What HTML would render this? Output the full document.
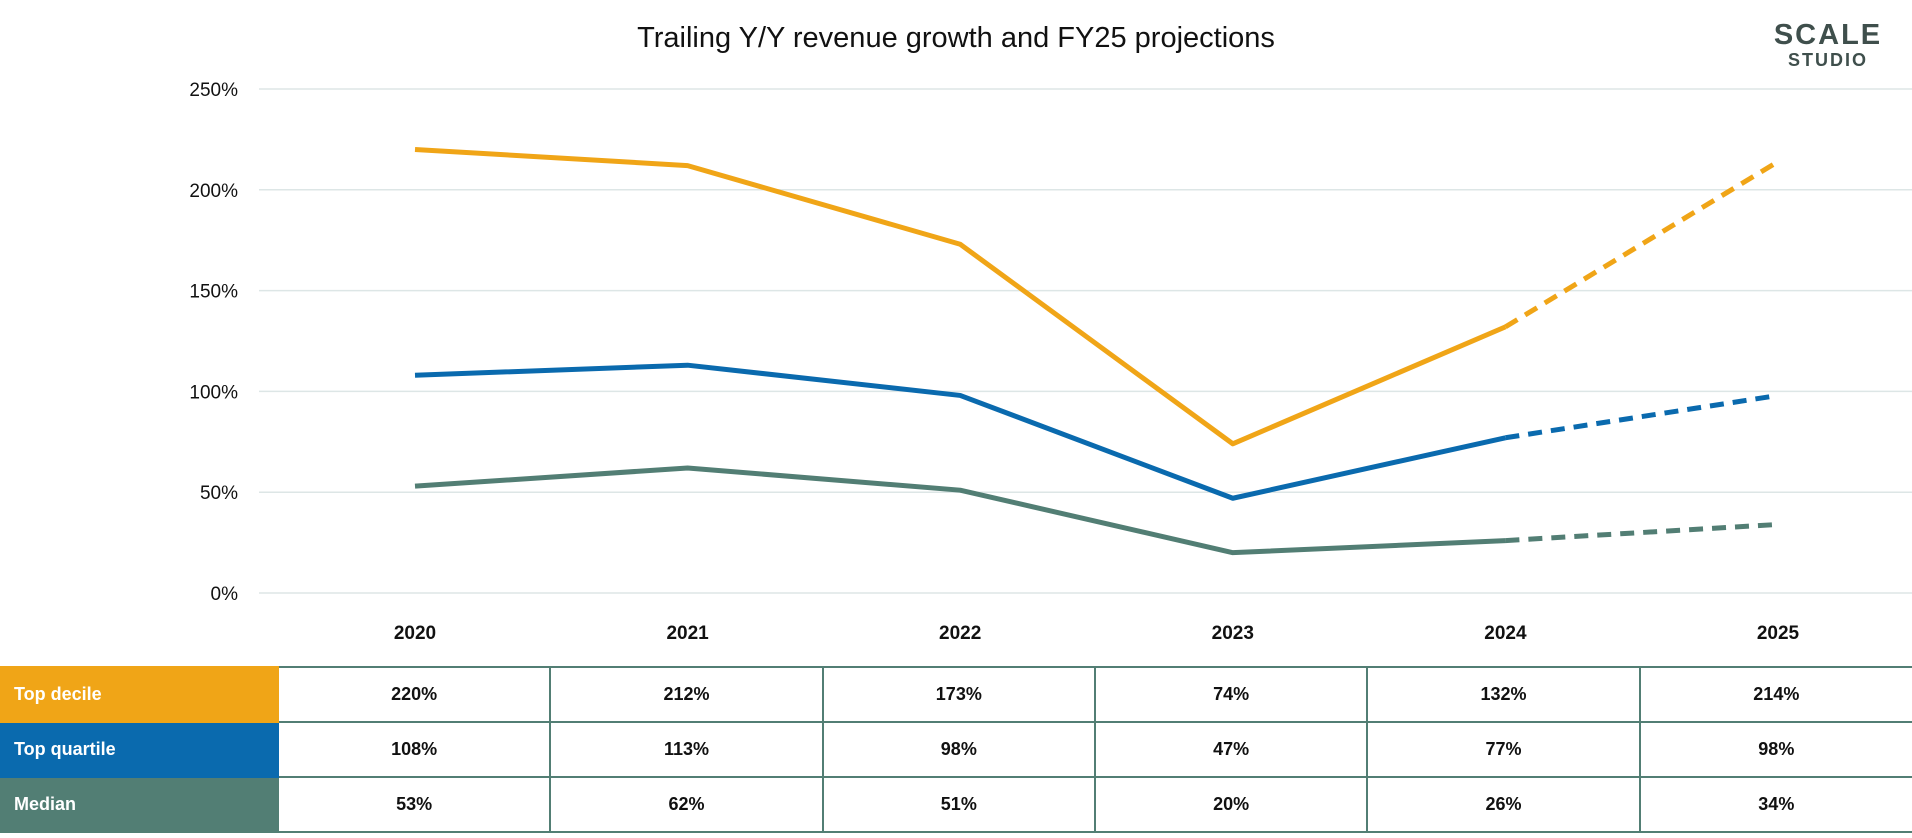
<!DOCTYPE html>
<html><head><meta charset="utf-8"><style>
body{margin:0;width:1912px;height:838px;background:#fff;font-family:"Liberation Sans",sans-serif;overflow:hidden;position:relative}
.title{position:absolute;left:0;width:1912px;top:22px;text-align:center;font-size:29px;color:#111}
.logo{position:absolute;left:1770px;top:20px;color:#3f4f4c;font-weight:bold;text-align:center;width:116px}
table{position:absolute;left:0;top:666px;border-collapse:collapse;width:1912px;table-layout:fixed}
td{height:53px;border:2px solid #527E74;text-align:center;font-weight:bold;font-size:18px;color:#111;padding:0}
td.lab{color:#fff;text-align:left;padding-left:14px;border-left:none}
</style></head><body>
<div class="title">Trailing Y/Y revenue growth and FY25 projections</div>
<div class="logo"><div style="font-size:29px;letter-spacing:2px;line-height:30px">SCALE</div><div style="font-size:18px;letter-spacing:2px">STUDIO</div></div>
<svg id="chart" width="1912" height="660" style="position:absolute;left:0;top:0"></svg>
<table><colgroup><col style="width:278px"><col><col><col><col><col><col></colgroup><tbody id="tb"></tbody></table>
<script>
const years=["2020","2021","2022","2023","2024","2025"];
const topDecile=[220,212,173,74,132,214];
const topQuartile=[108,113,98,47,77,98];
const median=[53,62,51,20,26,34];
const yTicks=[0,50,100,150,200,250];
const NS="http://www.w3.org/2000/svg";
const svg=document.getElementById('chart');
const X0=415,XS=272.6;
function x(i){return X0+i*XS;}
function y(v){return 593-v*(593-89)/250;}
function mk(t,a){const e=document.createElementNS(NS,t);for(const k in a)e.setAttribute(k,a[k]);svg.appendChild(e);return e;}
yTicks.forEach(v=>{
 const l=mk('line',{x1:259,x2:1912,y1:y(v),y2:y(v),stroke:'#dde6e6','stroke-width':1.5});
 
 
 const t=mk('text',{x:238,y:y(v)+7,'text-anchor':'end','font-size':19,fill:'#111','font-family':'Liberation Sans'});
 t.textContent=v+'%';
 
 
});
years.forEach((yr,i)=>{
 const t=mk('text',{x:x(i),y:639,'text-anchor':'middle','font-size':19,'font-weight':'bold',fill:'#111','font-family':'Liberation Sans'});
 t.textContent=yr;
 
 
});
const series=[["top-decile",topDecile,"#F0A517"],["top-quartile",topQuartile,"#0A6AAE"],["median",median,"#527E74"]];
series.forEach(([n,d,c])=>{
 const pts=d.slice(0,5).map((v,i)=>x(i)+','+y(v)).join(' ');
 const p=mk('polyline',{points:pts,fill:'none',stroke:c,'stroke-width':5,'stroke-linejoin':'round'});
 
 
 const dl=mk('line',{x1:x(4),y1:y(d[4]),x2:x(5),y2:y(d[5]),stroke:c,'stroke-width':5,'stroke-dasharray':'14 9'});
 
 
});
const tb=document.getElementById('tb');
const rows=[["Top decile",topDecile,"#F0A517"],["Top quartile",topQuartile,"#0A6AAE"],["Median",median,"#527E74"]];
rows.forEach(([lab,d,c])=>{
 const tr=document.createElement('tr');
 
 
 const th=document.createElement('td');th.className='lab';th.style.background=c;th.style.borderColor=c;th.textContent=lab;
 
 
 tr.appendChild(th);
 d.forEach((v,i)=>{const td=document.createElement('td');td.textContent=v+'%';
  
  
  if(i==5)td.style.borderRight='none';
  tr.appendChild(td);});
 tb.appendChild(tr);
});
</script>
</body></html>
